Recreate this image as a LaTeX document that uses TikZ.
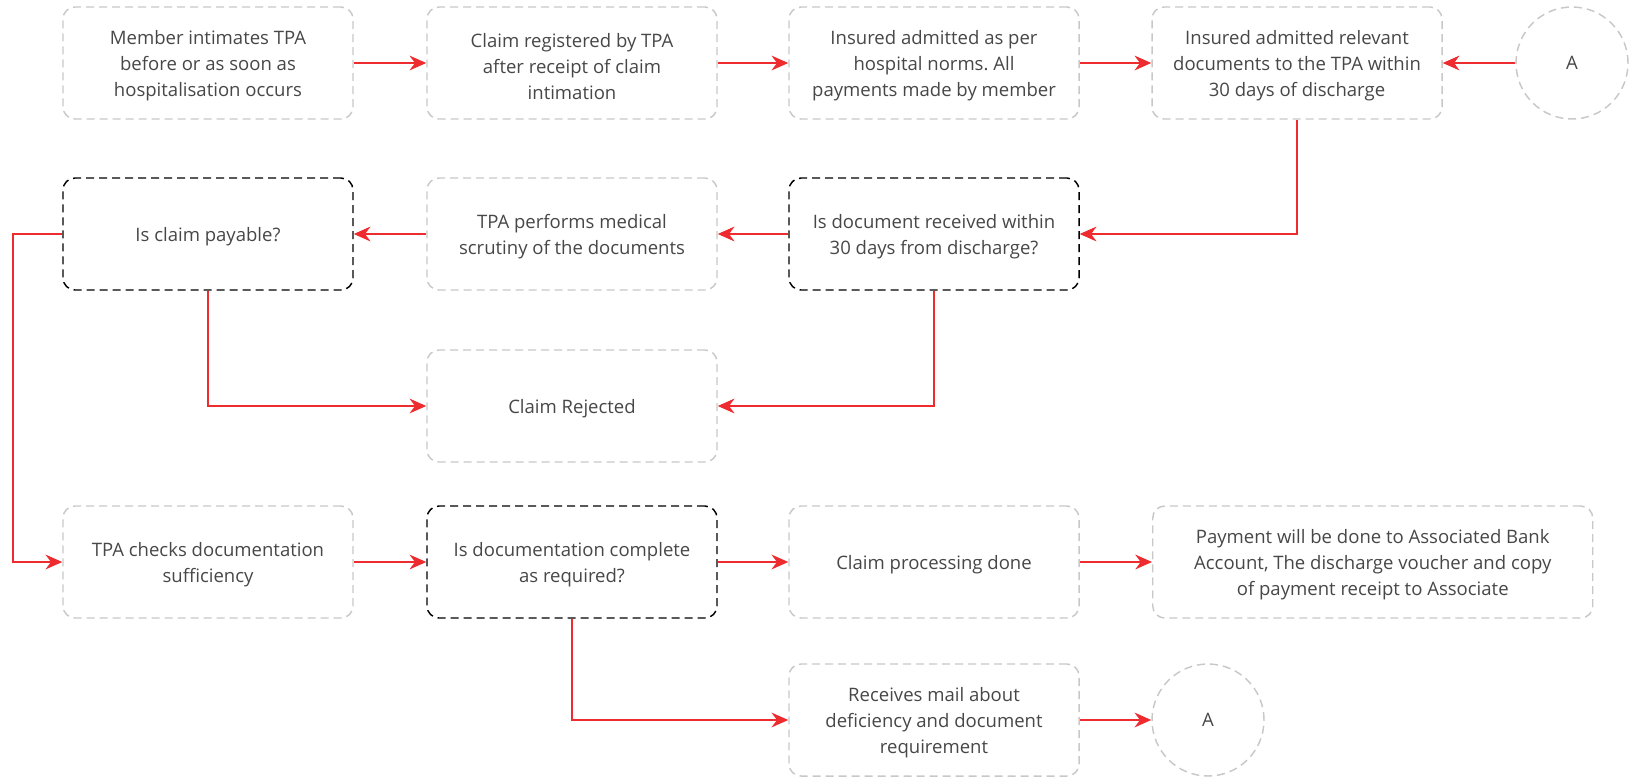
\documentclass[tikz,border=0pt]{standalone}
\usepackage{fontspec}
\setmainfont{Open Sans}
\frenchspacing
\usetikzlibrary{arrows.meta}
\definecolor{boxgray}{HTML}{C8C8C8}
\definecolor{txtgray}{HTML}{474747}
\definecolor{arrred}{HTML}{EE2B2F}
\newcommand\tstrut{\rule{0pt}{15.2pt}}
\tikzset{
  box/.style={draw=boxgray, dash pattern=on 6pt off 3.75pt, line width=1.1pt,
    rounded corners=9pt, minimum width=217.5pt, minimum height=84pt,
    align=center, text=txtgray, font=\fontsize{13.9}{19.5}\selectfont, inner sep=0pt},
  dec/.style={box, draw=black},
  wide/.style={box, minimum width=330pt},
  conn/.style={draw=arrred, line width=1.8pt,
    -{Stealth[length=12.5pt,width=11pt,inset=4pt]}},
  circ/.style={circle, draw=boxgray, dash pattern=on 6pt off 3.75pt, line width=1.1pt,
    minimum size=84pt, inner sep=0pt, text=txtgray, font=\fontsize{13.9}{19.5}\selectfont}
}
\begin{document}
\begin{tikzpicture}[x=0.75pt,y=-0.75pt]
\useasboundingbox (0,0) rectangle (1633,779);
% row 1
\node[box] (m1) at (208,63) {\tstrut Member intimates TPA\\before or as soon as\\hospitalisation occurs};
\node[box] (m2) at (572,63) {\tstrut Claim registered by TPA\\after receipt of claim\\intimation};
\node[box] (m3) at (934,63) {\tstrut Insured admitted as per\\hospital norms. All\\payments made by member};
\node[box] (m4) at (1297,63) {\tstrut Insured admitted relevant\\documents to the TPA within\\30 days of discharge};
\node[circ] (a1) at (1572,63) {A};
% row 2
\node[dec] (c1) at (208,234) {\tstrut Is claim payable?};
\node[box] (p1) at (572,234) {\tstrut TPA performs medical\\scrutiny of the documents};
\node[dec] (d1) at (934,234) {\tstrut Is document received within\\30 days from discharge?};
% row 3
\node[box] (rej) at (572,406) {\tstrut Claim Rejected};
% row 4
\node[box] (t1) at (208,562) {\tstrut TPA checks documentation\\sufficiency};
\node[dec] (d2) at (572,562) {\tstrut Is documentation complete\\as required?};
\node[box] (proc) at (934,562) {\tstrut Claim processing done};
\node[wide, anchor=west] (pay) at (1152,562) {\tstrut Payment will be done to Associated Bank\\Account, The discharge voucher and copy\\of payment receipt to Associate};
% row 5
\node[box] (mail) at (934,720) {\tstrut Receives mail about\\deficiency and document\\requirement};
\node[circ] (a2) at (1208,720) {A};
% connectors
\draw[conn] (m1) -- (m2);
\draw[conn] (m2) -- (m3);
\draw[conn] (m3) -- (m4);
\draw[conn] (a1) -- (m4);
\draw[conn] (m4.south) |- (d1.east);
\draw[conn] (d1) -- (p1);
\draw[conn] (p1) -- (c1);
\draw[conn] (c1.west) -- ([xshift=-36.75pt]c1.west) |- (t1.west);
\draw[conn] (c1.south) |- (rej.west);
\draw[conn] (d1.south) |- (rej.east);
\draw[conn] (t1) -- (d2);
\draw[conn] (d2) -- (proc);
\draw[conn] (proc) -- (pay);
\draw[conn] (d2.south) |- (mail.west);
\draw[conn] (mail) -- (a2);
\end{tikzpicture}
\end{document}
